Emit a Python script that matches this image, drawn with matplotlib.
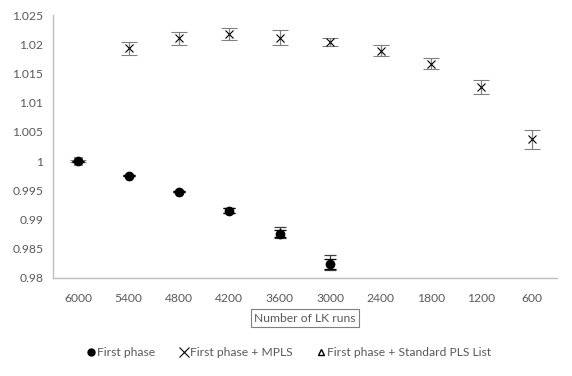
import matplotlib
matplotlib.use("Agg")
import matplotlib.pyplot as plt
from matplotlib.lines import Line2D
import numpy as np

plt.rcParams['font.family'] = ['Lato', 'DejaVu Sans']

categories = ["6000", "5400", "4800", "4200", "3600", "3000", "2400", "1800", "1200", "600"]

first_phase = [1.0000, 0.9975, 0.9948, 0.9915, 0.9876, 0.9824]
first_phase_err = [0.0001, 0.0001, 0.0001, 0.0004, 0.0006, 0.0008]

std_pls = [1.0000, 0.9975, 0.9948, 0.9916, 0.9878, 0.9827]
std_pls_err = [0.0001, 0.0001, 0.0001, 0.0004, 0.0010, 0.0013]

mpls = [1.0000, 1.0193, 1.0210, 1.0217, 1.0211, 1.0204, 1.0189, 1.0167, 1.0126, 1.0037]
mpls_err = [0.0002, 0.0011, 0.0011, 0.0010, 0.0013, 0.0007, 0.0010, 0.0009, 0.0012, 0.0016]

yticks = [0.98, 0.985, 0.99, 0.995, 1.0, 1.005, 1.01, 1.015, 1.02, 1.025]
ytick_labels = ["0.98", "0.985", "0.99", "0.995", "1", "1.005", "1.01", "1.015", "1.02", "1.025"]

fig = plt.figure(figsize=(5.72, 3.76), dpi=100)
ax = fig.add_axes([53/572, 1-278/376, (557-53)/572, (278-15)/376])

x_all = np.arange(len(categories))
x_fp = np.arange(len(first_phase))

txt = '#595959'
spine = '#bfbfbf'

ax.errorbar(x_fp, std_pls, yerr=std_pls_err, fmt='^', ms=4.5, mfc='white', mec='black',
            ecolor='#404040', elinewidth=0.9, capsize=4, capthick=0.9, zorder=2)
ax.errorbar(x_fp, first_phase, yerr=first_phase_err, fmt='o', ms=6, mfc='black', mec='black',
            ecolor='black', elinewidth=0.9, capsize=4, capthick=0.9, zorder=4)
ax.errorbar(x_all, mpls, yerr=mpls_err, fmt='x', ms=6, mew=0.8, color='black',
            ecolor='#808080', elinewidth=0.9, capsize=6, capthick=0.9, zorder=3)

ax.set_xlim(-0.5, len(categories) - 0.5)
ax.set_ylim(0.98, 1.025)
ax.set_xticks(x_all)
ax.set_xticklabels(categories)
ax.set_yticks(yticks)
ax.set_yticklabels(ytick_labels)
ax.tick_params(axis='both', length=0, labelsize=8.7, labelcolor=txt)
ax.tick_params(axis='x', pad=11)
ax.tick_params(axis='y', pad=7)

for s in ['top', 'right']:
    ax.spines[s].set_visible(False)
for s in ['left', 'bottom']:
    ax.spines[s].set_color(spine)
    ax.spines[s].set_linewidth(1.0)

ax.set_xlabel("Number of LK runs", fontsize=8.7, color=txt, labelpad=6,
              bbox=dict(boxstyle='square,pad=0.3', fc='white', ec='#7f7f7f', lw=0.8))

handles = [
    Line2D([], [], marker='o', ls='none', ms=5, mfc='black', mec='black'),
    Line2D([], [], marker='x', ls='none', ms=7, mew=0.8, color='black'),
    Line2D([], [], marker='^', ls='none', ms=4.5, mfc='white', mec='black'),
]
labels = ["First phase", "First phase + MPLS", "First phase + Standard PLS List"]
leg = fig.legend(handles, labels, loc='center', bbox_to_anchor=(0.505, 1-353/376), ncol=3,
                 frameon=False, fontsize=8.7, handlelength=0.7, handletextpad=0.15,
                 columnspacing=2.0)
for t in leg.get_texts():
    t.set_color(txt)

fig.savefig("out.png", dpi=100)
